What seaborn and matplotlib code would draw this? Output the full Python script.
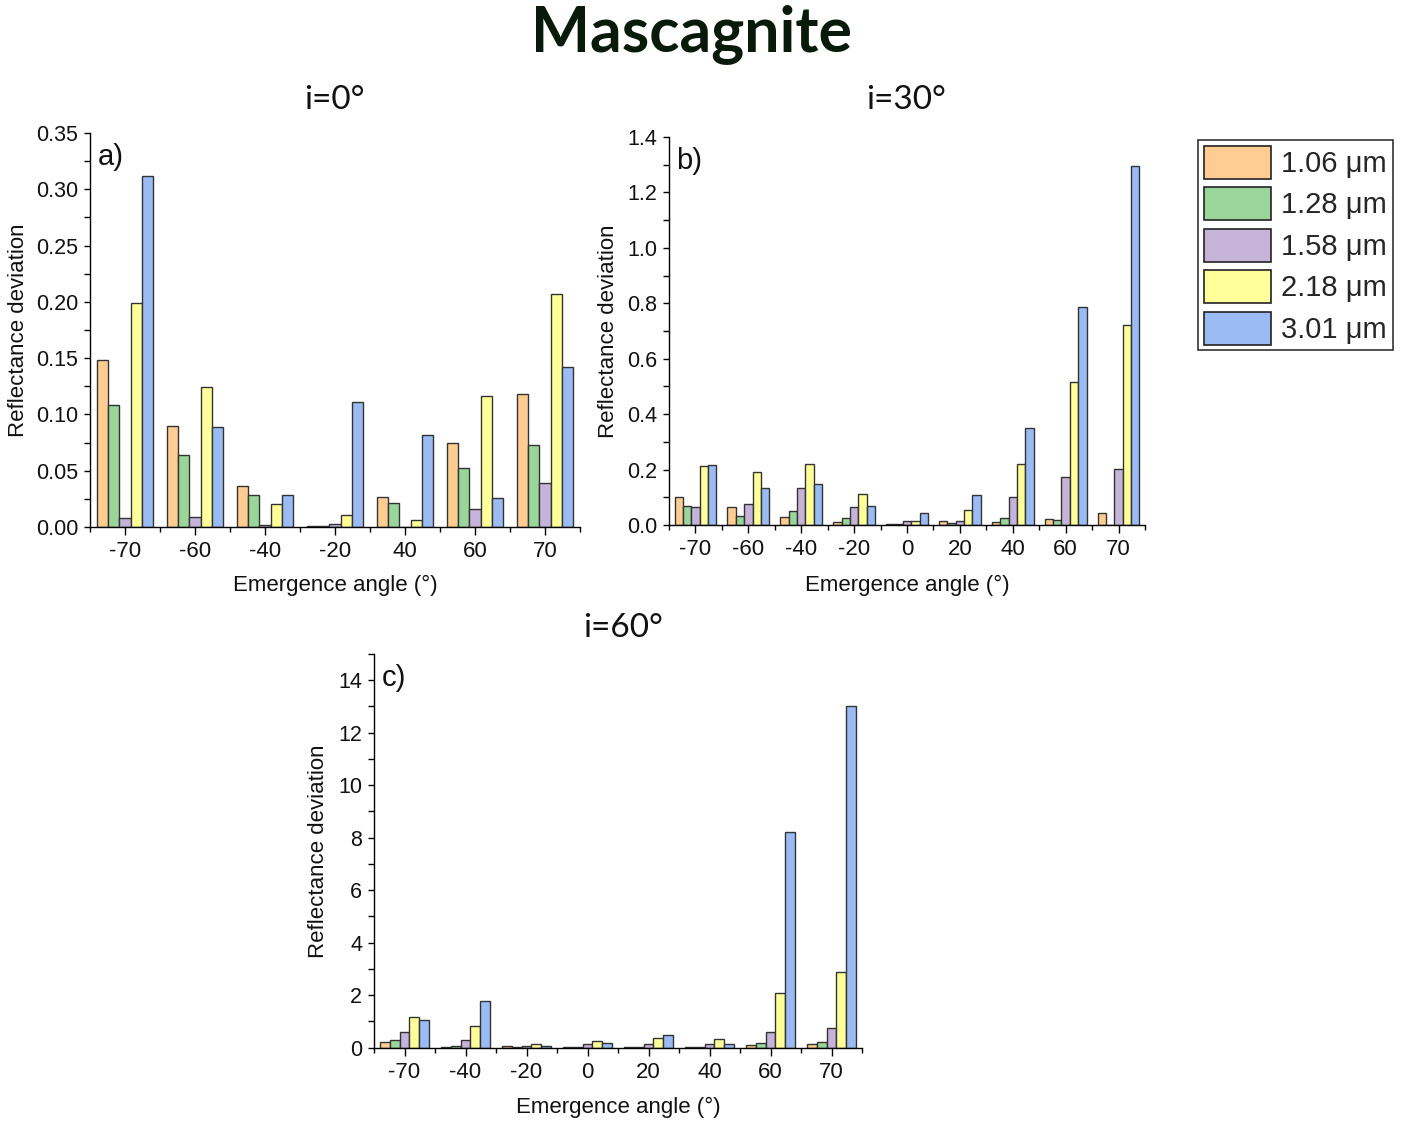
import numpy as np
import pandas as pd
import matplotlib
matplotlib.use("Agg")
import matplotlib.pyplot as plt
from matplotlib.patches import Patch
from matplotlib.ticker import MultipleLocator, FixedLocator
import seaborn as sns

# ---------------- data ----------------
wavelengths = ["1.06 \u03bcm", "1.28 \u03bcm", "1.58 \u03bcm", "2.18 \u03bcm", "3.01 \u03bcm"]
colors = ["#FFCC91", "#9AD69A", "#C5B3D9", "#FFFF99", "#9BBBF5"]

angles_a = ["-70", "-60", "-40", "-20", "40", "60", "70"]
a_106 = [0.148, 0.090, 0.036, 0.001, 0.027, 0.075, 0.118]
a_128 = [0.108, 0.064, 0.028, 0.0005, 0.021, 0.052, 0.073]
a_158 = [0.008, 0.009, 0.002, 0.003, 0.0003, 0.016, 0.039]
a_218 = [0.199, 0.124, 0.020, 0.011, 0.0065, 0.116, 0.207]
a_301 = [0.312, 0.089, 0.028, 0.111, 0.082, 0.026, 0.142]

angles_b = ["-70", "-60", "-40", "-20", "0", "20", "40", "60", "70"]
b_106 = [0.102, 0.064, 0.030, 0.012, 0.002, 0.014, 0.012, 0.020, 0.042]
b_128 = [0.069, 0.034, 0.052, 0.024, 0.002, 0.008, 0.026, 0.017, 0.0]
b_158 = [0.064, 0.077, 0.132, 0.066, 0.014, 0.016, 0.101, 0.173, 0.202]
b_218 = [0.212, 0.190, 0.220, 0.113, 0.014, 0.054, 0.220, 0.515, 0.721]
b_301 = [0.217, 0.134, 0.147, 0.070, 0.042, 0.107, 0.349, 0.788, 1.297]

angles_c = ["-70", "-40", "-20", "0", "20", "40", "60", "70"]
c_106 = [0.20, 0.03, 0.05, 0.01, 0.01, 0.01, 0.10, 0.13]
c_128 = [0.28, 0.08, 0.03, 0.02, 0.01, 0.02, 0.18, 0.21]
c_158 = [0.61, 0.28, 0.06, 0.13, 0.13, 0.16, 0.58, 0.75]
c_218 = [1.18, 0.81, 0.16, 0.24, 0.37, 0.34, 2.07, 2.87]
c_301 = [1.04, 1.77, 0.05, 0.19, 0.49, 0.16, 8.21, 13.0]


def long_df(angles, series):
    rows = []
    for wl, vals in zip(wavelengths, series):
        for ang, v in zip(angles, vals):
            rows.append({"angle": ang, "wl": wl, "value": v})
    return pd.DataFrame(rows)


df_a = long_df(angles_a, [a_106, a_128, a_158, a_218, a_301])
df_b = long_df(angles_b, [b_106, b_128, b_158, b_218, b_301])
df_c = long_df(angles_c, [c_106, c_128, c_158, c_218, c_301])

# ---------------- style ----------------
sns.set_theme(style="ticks")
plt.rcParams["font.family"] = ["Liberation Sans", "DejaVu Sans"]
plt.rcParams["axes.linewidth"] = 1.0
plt.rcParams["xtick.direction"] = "out"
plt.rcParams["ytick.direction"] = "out"

W, H = 1407, 1122
fig = plt.figure(figsize=(W / 100, H / 100), dpi=100)


def px_axes(left, top, right, bottom):
    return fig.add_axes([left / W, 1 - bottom / H, (right - left) / W, (bottom - top) / H])


ax_a = px_axes(90, 133, 580, 527)
ax_b = px_axes(669, 137, 1145, 525)
ax_c = px_axes(374, 654, 862, 1047.7)

XTICK_FS = 16
YTICK_FS = 15.5
LABEL_FS = 16
palette = dict(zip(wavelengths, colors))


def draw(ax, df, order, ymax, major, minor, fmt, tag, ylab_x, xlab_y):
    sns.barplot(data=df, x="angle", y="value", hue="wl", order=order,
                hue_order=wavelengths, palette=palette, width=0.79, gap=0,
                edgecolor="#333333", linewidth=1.0, errorbar=None,
                legend=False, ax=ax, saturation=1)
    n = len(order)
    ax.set_xlim(-0.5, n - 0.5)
    ax.set_ylim(0, ymax)
    ax.yaxis.set_major_locator(MultipleLocator(major))
    ax.yaxis.set_minor_locator(MultipleLocator(minor))
    ax.yaxis.set_major_formatter(plt.FormatStrFormatter(fmt))
    ax.xaxis.set_minor_locator(FixedLocator(np.arange(-0.5, n, 1.0)))
    ax.tick_params(axis="x", which="major", labelsize=XTICK_FS, length=5.5,
                   width=1.0, color="black", labelcolor="#111111", pad=4.5)
    ax.tick_params(axis="y", which="major", labelsize=YTICK_FS, length=4.5,
                   width=1.0, color="black", labelcolor="#111111", pad=4)
    ax.tick_params(axis="y", which="minor", length=4, width=1.0, color="black")
    ax.tick_params(axis="x", which="minor", length=3.5, width=1.0, color="black")
    for s in ("top", "right"):
        ax.spines[s].set_visible(False)
    for s in ("left", "bottom"):
        ax.spines[s].set_color("black")
    ax.set_xlabel("Emergence angle (\u00b0)", fontsize=LABEL_FS, color="#111111")
    ax.set_ylabel("Reflectance deviation", fontsize=LABEL_FS, color="#111111")
    ax.yaxis.set_label_coords(ylab_x, 0.5)
    ax.xaxis.set_label_coords(0.5, xlab_y)
    ax.text(0.015, 0.975, tag, transform=ax.transAxes, ha="left", va="top",
            fontsize=21, color="#111111")


draw(ax_a, df_a, angles_a, 0.35, 0.05, 0.025, "%.2f", "a)", -0.124, -0.122)
draw(ax_b, df_b, angles_b, 1.4, 0.2, 0.1, "%.1f", "b)", -0.105, -0.129)
draw(ax_c, df_c, angles_c, 15, 2, 1, "%d", "c)", -0.092, -0.125)

# panel titles
TITLE_FONT = ["Lato", "DejaVu Sans"]
fig.text(334 / W, 1 - 100 / H, "i=0\u00b0", ha="center", va="center",
         fontsize=24, family=TITLE_FONT, color="#111111")
fig.text(906 / W, 1 - 100 / H, "i=30\u00b0", ha="center", va="center",
         fontsize=24, family=TITLE_FONT, color="#111111")
fig.text(623 / W, 1 - 628 / H, "i=60\u00b0", ha="center", va="center",
         fontsize=24, family=TITLE_FONT, color="#111111")
fig.text(691 / W, 1 - 34 / H, "Mascagnite", ha="center", va="center",
         fontsize=45, fontweight="bold", family=TITLE_FONT, color="#0a1a0a")

# legend
handles = [Patch(facecolor=c, edgecolor="#222222", linewidth=1.2, label=w)
           for c, w in zip(colors, wavelengths)]
leg = fig.legend(handles=handles, loc="upper left",
                 bbox_to_anchor=(1198 / W, 1 - 140 / H),
                 fontsize=21, frameon=True, fancybox=False,
                 handlelength=2.3, handleheight=1.35, labelspacing=0.3,
                 handletextpad=0.35, borderpad=0.2, borderaxespad=0)
leg.get_frame().set_edgecolor("black")
leg.get_frame().set_linewidth(1.2)

fig.savefig("out.png", dpi=100)
